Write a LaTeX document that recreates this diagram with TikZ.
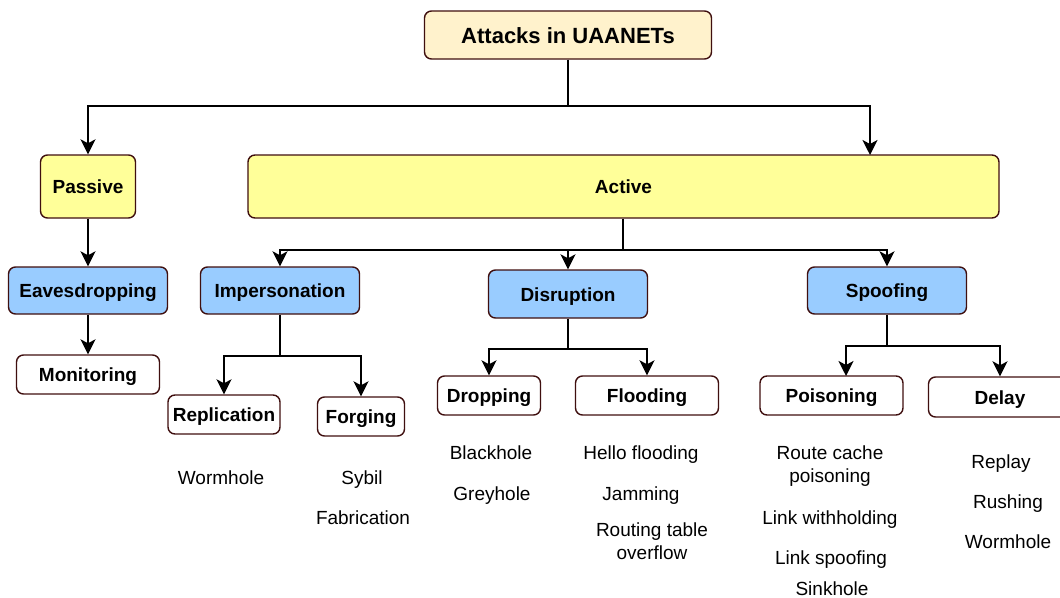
\documentclass[tikz,border=0pt]{standalone}
\usepackage{fontspec}
\setmainfont{Liberation Sans}
\usetikzlibrary{arrows.meta}
\definecolor{bd}{HTML}{3F0F0F}
\definecolor{rootfill}{HTML}{FFF2CC}
\definecolor{yel}{HTML}{FFFF99}
\definecolor{blu}{HTML}{99CCFF}
\begin{document}
\begin{tikzpicture}[x=1pt,y=-1pt,
  box/.style={draw=bd, line width=1.4pt, rounded corners=7pt, inner sep=0pt,
    text height=14pt, text depth=0pt,
    font=\fontsize{19}{22}\selectfont\bfseries, align=center},
  lbl/.style={inner sep=0pt, text height=14pt, text depth=0pt,
    font=\fontsize{19}{22.5}\selectfont, align=center},
  lbl2/.style={inner sep=0pt, font=\fontsize{19}{22.5}\selectfont, align=center},
  conn/.style={line width=1.8pt, draw=black},
  arr/.style={conn, -{Stealth[length=15pt,width=15pt,inset=4pt]}}]
\useasboundingbox[fill=white] (0,0) rectangle (1060,597);

% boxes
\node[box, fill=rootfill, minimum width=287pt, minimum height=48pt, text height=16pt,
  font=\fontsize{22}{26}\selectfont\bfseries] (root) at (568,35) {Attacks in UAANETs};
\node[box, fill=yel, minimum width=95pt, minimum height=63pt] (passive) at (88,186.5) {Passive};
\node[box, fill=yel, minimum width=751pt, minimum height=63pt] (active) at (623.5,186.5) {Active};
\node[box, fill=blu, minimum width=159pt, minimum height=47pt] (eaves) at (88,290.5) {Eavesdropping};
\node[box, fill=blu, minimum width=159pt, minimum height=47pt] (imp) at (280,290.5) {Impersonation};
\node[box, fill=blu, minimum width=159pt, minimum height=48pt] (dis) at (568,294) {Disruption};
\node[box, fill=blu, minimum width=159pt, minimum height=47pt] (spoof) at (887,290.5) {Spoofing};
\node[box, fill=white, minimum width=143pt, minimum height=39pt] (mon) at (88,374.5) {Monitoring};
\node[box, fill=white, minimum width=112pt, minimum height=39pt] (rep) at (224,414.5) {Replication};
\node[box, fill=white, minimum width=87pt, minimum height=39pt] (forg) at (361,416.5) {Forging};
\node[box, fill=white, minimum width=103pt, minimum height=39pt] (drop) at (489,395.5) {Dropping};
\node[box, fill=white, minimum width=143pt, minimum height=39pt] (flood) at (647,395.5) {Flooding};
\node[box, fill=white, minimum width=143pt, minimum height=39pt] (pois) at (831.5,395.5) {Poisoning};
\node[box, fill=white, minimum width=143pt, minimum height=40pt] (delay) at (1000,397) {Delay};

% junction coordinates
\coordinate (r1) at (568,106);
\coordinate (actin) at (870,155);
\coordinate (a1) at (623,250);
\coordinate (i1) at (280,356);
\coordinate (d1) at (568,349);
\coordinate (s1) at (887,346);
\coordinate (poisin) at (846,376);

% connectors
\draw[conn] (root.south) -- (r1);
\draw[arr] (r1) -| (passive.north);
\draw[arr] (r1) -| (actin);
\draw[arr] (passive) -- (eaves);
\draw[arr] (eaves) -- (mon);
\draw[conn] (a1 |- active.south) -- (a1);
\draw[arr] (a1) -| (imp.north);
\draw[arr] (a1) -| (dis.north);
\draw[arr] (a1) -| (spoof.north);
\draw[conn] (imp.south) -- (i1);
\draw[arr] (i1) -| (rep.north);
\draw[arr] (i1) -| (forg.north);
\draw[conn] (dis.south) -- (d1);
\draw[arr] (d1) -| (drop.north);
\draw[arr] (d1) -| (flood.north);
\draw[conn] (spoof.south) -- (s1);
\draw[arr] (s1) -| (poisin);
\draw[arr] (s1) -| (delay.north);

% leaf texts
\node[lbl] (t1) at (221,477) {Wormhole};
\node[lbl] (t2) at (362,477) {Sybil};
\node[lbl] (t3) at (363,517) {Fabrication};
\node[lbl] (t4) at (491,452) {Blackhole};
\node[lbl] (t5) at (492,493) {Greyhole};
\node[lbl] (t6) at (641,452) {Hello flooding};
\node[lbl] (t7) at (641,493) {Jamming};
\node[lbl2] (t8) at (652,541) {Routing table\\overflow};
\node[lbl2] (t9) at (830,466) {Route cache\\poisoning};
\node[lbl] (t10) at (830,517) {Link withholding};
\node[lbl] (t11) at (831,557) {Link spoofing};
\node[lbl] (t12) at (832,588) {Sinkhole};
\node[lbl] (t13) at (1001,461) {Replay};
\node[lbl] (t14) at (1008,501) {Rushing};
\node[lbl] (t15) at (1008,541) {Wormhole};
\end{tikzpicture}
\end{document}
